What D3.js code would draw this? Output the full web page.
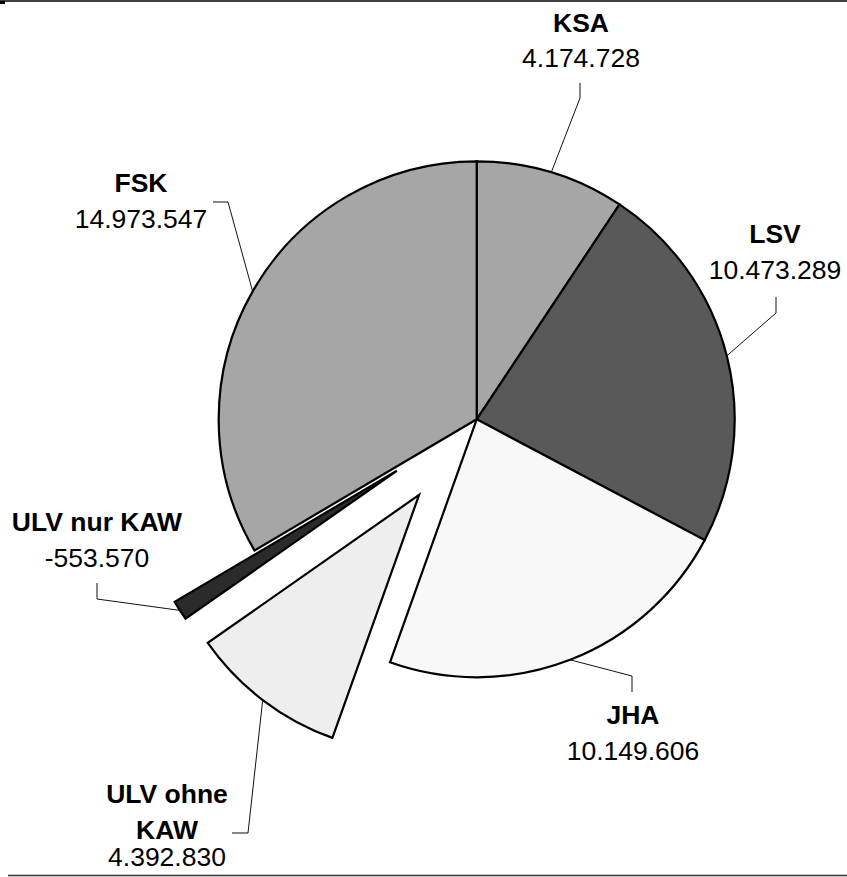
<!DOCTYPE html>
<html>
<head>
<meta charset="utf-8">
<script src="https://cdn.jsdelivr.net/npm/d3@7"></script>
<style>
  html, body { margin: 0; padding: 0; background: #fff; }
  svg { display: block; }
  text { font-family: "Liberation Sans", Arial, sans-serif; }
</style>
</head>
<body>
<svg id="chart" width="847" height="877"></svg>
<script>
// ---- data ----
const categories = ["KSA", "LSV", "JHA", "ULV ohne KAW", "ULV nur KAW", "FSK"];
const values = [4174728, 10473289, 10149606, 4392830, -553570, 14973547];
const exploded = [false, false, false, true, true, false];

// ---- styles / layout (not data) ----
const fills = ["#a6a6a6", "#595959", "#f8f8f8", "#eeeeee", "#2b2b2b", "#a6a6a6"];
const titleLines = {
  "KSA": ["KSA"], "LSV": ["LSV"], "JHA": ["JHA"], "FSK": ["FSK"],
  "ULV nur KAW": ["ULV nur KAW"], "ULV ohne KAW": ["ULV ohne", "KAW"]
};
const labelLayout = {
  "KSA":          { x: 581, y: 32,  vy: 67,  start: [580, 83],  elbow: [580, 98] },
  "LSV":          { x: 775, y: 243, vy: 279, start: [776, 297], elbow: [776, 313] },
  "JHA":          { x: 633, y: 724, vy: 760, start: [632, 692], elbow: [632, 676] },
  "FSK":          { x: 141, y: 192, vy: 228, start: [213, 202], elbow: [228, 202] },
  "ULV nur KAW":  { x: 97,  y: 531, vy: 567, start: [97, 583],  elbow: [97, 599] },
  "ULV ohne KAW": { x: 167, y: 803, vy: 866, start: [232, 833], elbow: [248, 833] }
};

const cx = 476.7, cy = 419.3, R = 258, explodeDist = 95;
const fontSize = 26.5, lineGap = 35.5;

const svg = d3.select("#chart");
const locale = d3.formatLocale({ decimal: ",", thousands: ".", grouping: [3], currency: ["", " €"], minus: "-" });
const fmt = locale.format(",d");

// frame lines
svg.append("line").attr("x1", 0).attr("x2", 847).attr("y1", 1).attr("y2", 1)
  .attr("stroke", "#000").attr("stroke-width", 1.5);
svg.append("rect").attr("x", 0).attr("y", 1).attr("width", 5).attr("height", 3).attr("fill", "#000");
svg.append("line").attr("x1", 8).attr("x2", 847).attr("y1", 875.5).attr("y2", 875.5)
  .attr("stroke", "#333").attr("stroke-width", 1.5);

const data = categories.map((c, i) => ({ name: c, value: values[i], explode: exploded[i], fill: fills[i] }));

const pie = d3.pie().sort(null).value(d => Math.abs(d.value)).startAngle(0).endAngle(2 * Math.PI);
const arcs = pie(data);
const arc = d3.arc().innerRadius(0).outerRadius(R);

function offsetOf(a) {
  if (!a.data.explode) return [0, 0];
  const m = (a.startAngle + a.endAngle) / 2;
  return [Math.sin(m) * explodeDist, -Math.cos(m) * explodeDist];
}

const g = svg.append("g").attr("transform", `translate(${cx},${cy})`);
g.selectAll("path.slice").data(arcs).join("path")
  .attr("class", "slice")
  .attr("d", arc)
  .attr("transform", a => { const o = offsetOf(a); return `translate(${o[0]},${o[1]})`; })
  .attr("fill", a => a.data.fill)
  .attr("stroke", "#000")
  .attr("stroke-width", 2.2)
  .attr("stroke-linejoin", "miter");

// leader lines
arcs.forEach(a => {
  const L = labelLayout[a.data.name];
  const m = (a.startAngle + a.endAngle) / 2;
  const o = offsetOf(a);
  const px = cx + o[0] + Math.sin(m) * R;
  const py = cy + o[1] - Math.cos(m) * R;
  svg.append("polyline")
    .attr("points", [L.start, L.elbow, [px, py]].map(p => p.join(",")).join(" "))
    .attr("fill", "none").attr("stroke", "#111").attr("stroke-width", 1);
});

// labels
arcs.forEach(a => {
  const L = labelLayout[a.data.name];
  const lines = titleLines[a.data.name];
  lines.forEach((t, k) => {
    svg.append("text")
      .attr("x", L.x).attr("y", L.y + k * lineGap)
      .attr("text-anchor", "middle")
      .attr("font-size", fontSize).attr("font-weight", "bold").attr("fill", "#000")
      .text(t);
  });
  svg.append("text")
    .attr("x", L.x).attr("y", L.vy)
    .attr("text-anchor", "middle")
    .attr("font-size", fontSize).attr("fill", "#000")
    .text(fmt(a.data.value));
});
</script>
</body>
</html>
